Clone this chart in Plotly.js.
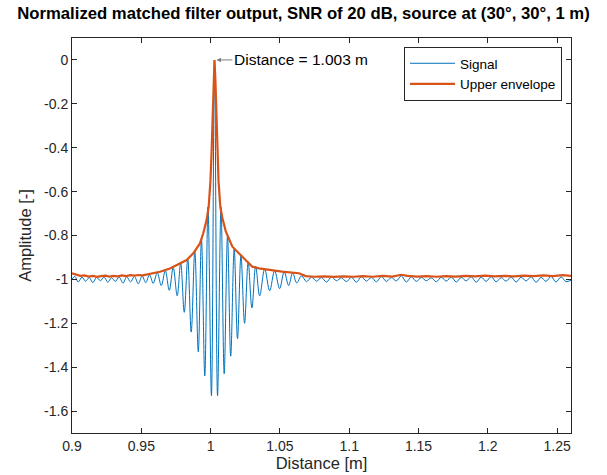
<!DOCTYPE html>
<html>
<head>
<meta charset="utf-8">
<script src="https://cdn.plot.ly/plotly-3.0.1.min.js"></script>
<style>html,body{margin:0;padding:0;background:#fff;}#chart{width:607px;height:475px;}</style>
</head>
<body>
<div id="chart"></div>
<script>
// Signal (matched filter output): positions [m] and amplitudes of its local extremes
const signalX = [
  0.9000,0.9020,0.9045,0.9072,0.9098,0.9125,0.9150,0.9178,0.9205,0.9232,0.9258,0.9285,0.9312,0.9340,
  0.9368,0.9395,0.9423,0.9450,0.9478,0.9506,0.9532,0.9559,0.9586,
  0.9615,0.9644,0.9673,0.9702,0.9730,0.9759,0.9784,0.9810,0.9835,0.9860,0.9886,0.9911,0.9934,0.9958,0.9981,1.0006,
  1.0028,
  1.0050,1.0075,1.0098,1.0122,1.0145,1.0170,1.0194,1.0219,1.0245,1.0271,1.0298,1.0325,1.0354,1.0390,1.0426,1.0462,
  1.0498,1.0531,1.0563,1.0592,1.0621,
  1.0656,1.0692,1.0728,1.0764,1.0800,1.0836,1.0872,1.0908,1.0944,1.0980,1.1016,1.1052,1.1088,1.1124,1.1160,1.1196,
  1.1232,1.1268,1.1304,1.1340,1.1376,1.1412,1.1448,1.1484,1.1520,1.1556,1.1592,1.1628,1.1664,1.1700,1.1736,1.1772,
  1.1808,1.1844,1.1880,1.1916,1.1952,1.1988,1.2024,1.2060,1.2096,1.2132,1.2168,1.2204,1.2240,1.2276,1.2312,1.2348,
  1.2384,1.2420,1.2456,1.2492,1.2528,1.2564,1.2600
];
const signalY = [
  -1.000,-0.986,-1.012,-0.990,-1.008,-0.992,-1.015,-0.991,-1.006,-0.989,-1.013,-0.993,-1.009,-0.990,
  -1.017,-0.988,-1.012,-0.986,-1.020,-0.984,-1.015,-0.979,-1.018,
  -0.970,-1.028,-0.960,-1.050,-0.945,-1.075,-0.925,-1.150,-0.905,-1.240,-0.870,-1.330,-0.815,-1.440,-0.670,-1.530,
  0.000,
  -1.530,-0.670,-1.430,-0.800,-1.350,-0.860,-1.270,-0.890,-1.200,-0.920,-1.130,-0.940,-1.075,-0.952,-1.052,-0.960,
  -1.042,-0.965,-1.028,-0.970,-1.016,
  -0.984,-1.010,-0.990,-1.008,-0.992,-1.012,-0.989,-1.006,-0.993,-1.010,-0.990,-1.013,-0.988,-1.008,-0.991,-1.011,
  -0.987,-1.009,-0.992,-1.007,-0.984,-1.012,-0.988,-1.009,-0.991,-1.006,-0.993,-1.011,-0.990,-1.008,-0.989,-1.012,
  -0.991,-1.007,-0.988,-1.013,-0.990,-1.009,-0.987,-1.011,-0.992,-1.008,-0.989,-1.012,-0.990,-1.007,-0.988,-1.013,
  -0.991,-1.009,-0.986,-1.012,-0.989,-1.010,-1.004
];
// Upper envelope
const envX = [
  0.900,0.903,0.906,0.909,0.912,0.915,0.918,0.921,0.924,0.927,0.930,0.933,0.936,0.939,0.942,0.945,0.948,0.951,0.954,
  0.957,0.960,0.9635,0.9707,0.9779,0.9827,0.9875,0.9923,0.9947,0.9971,0.9986,0.9999,1.0007,1.0014,1.0021,
  1.0028,
  1.0035,1.0042,1.0049,1.0057,1.0070,1.0085,1.0109,1.0157,1.0229,1.0301,1.0349,1.0421,1.0515,1.0637,1.0686,
  1.075,1.082,1.089,1.096,1.103,1.110,1.117,1.124,1.131,1.1376,1.142,1.149,1.156,1.163,1.170,1.177,1.184,1.191,
  1.198,1.205,1.212,1.219,1.226,1.233,1.240,1.247,1.254,1.260
];
const envY = [
  -0.972,-0.978,-0.984,-0.982,-0.987,-0.984,-0.988,-0.985,-0.983,-0.987,-0.984,-0.986,-0.982,-0.985,-0.981,-0.983,-0.980,-0.982,-0.978,
  -0.975,-0.969,-0.965,-0.950,-0.927,-0.912,-0.881,-0.836,-0.790,-0.730,-0.670,-0.550,-0.420,-0.260,-0.100,
  0.000,
  -0.100,-0.260,-0.420,-0.550,-0.670,-0.720,-0.780,-0.851,-0.897,-0.942,-0.950,-0.957,-0.965,-0.972,-0.985,
  -0.988,-0.986,-0.989,-0.986,-0.988,-0.985,-0.988,-0.984,-0.987,-0.979,-0.984,-0.987,-0.985,-0.988,-0.985,-0.987,-0.984,-0.986,
  -0.983,-0.986,-0.984,-0.986,-0.983,-0.985,-0.982,-0.985,-0.981,-0.984
];
const xTickVals = [0.9,0.95,1,1.05,1.1,1.15,1.2,1.25];
const xTickText = ['0.9','0.95','1','1.05','1.1','1.15','1.2','1.25'];
const yTickVals = [0,-0.2,-0.4,-0.6,-0.8,-1,-1.2,-1.4,-1.6];
const yTickText = ['0','-0.2','-0.4','-0.6','-0.8','-1','-1.2','-1.4','-1.6'];
const peakX = 1.0028, peakY = 0;

const FONT = '"Liberation Sans", Arial, Helvetica, sans-serif';
const AX = '#262626';

const traces = [
  {x: signalX, y: signalY, type: 'scatter', mode: 'lines', name: 'Signal',
   line: {color: '#0072BD', width: 1, shape: 'spline', smoothing: 1}},
  {x: envX, y: envY, type: 'scatter', mode: 'lines', name: 'Upper envelope',
   line: {color: '#D95319', width: 2.2}}
];

const axisCommon = {
  showline: true, linecolor: AX, linewidth: 1, mirror: 'ticks',
  ticks: 'inside', ticklen: 5, tickcolor: AX, tickwidth: 1,
  showgrid: false, zeroline: false, automargin: false,
  tickfont: {family: FONT, size: 14, color: AX}
};

const layout = {
  width: 607, height: 475,
  margin: {l: 72, r: 36, t: 38, b: 42},
  paper_bgcolor: '#fff', plot_bgcolor: '#fff',
  font: {family: FONT, color: '#000'},
  title: {text: '<b>Normalized matched filter output, SNR of 20 dB, source at (30°, 30°, 1 m)</b>',
          font: {family: FONT, size: 16.7, color: '#000'},
          x: 0.5, xref: 'container', xanchor: 'center', y: 1 - 13/475, yref: 'container', yanchor: 'middle'},
  xaxis: Object.assign({}, axisCommon, {
    range: [0.9, 1.26], tickvals: xTickVals, ticktext: xTickText,
    title: {text: 'Distance [m]', font: {family: FONT, size: 16.5, color: AX}, standoff: 3}
  }),
  yaxis: Object.assign({}, axisCommon, {
    range: [-1.7, 0.1], tickvals: yTickVals, ticktext: yTickText,
    title: {text: 'Amplitude [-]', font: {family: FONT, size: 16.5, color: AX}, standoff: 8}
  }),
  showlegend: true,
  legend: {x: (562-72)/499, xanchor: 'right', y: (433-47)/395, yanchor: 'top',
           bgcolor: '#fff', bordercolor: AX, borderwidth: 1, itemwidth: 45,
           font: {family: FONT, size: 13.5, color: '#000'}, tracegroupgap: 0},
  annotations: [{
    x: peakX, y: peakY, xref: 'x', yref: 'y', ax: 18, ay: 0,
    text: 'Distance = 1.003 m', showarrow: true, xanchor: 'left', yanchor: 'middle',
    arrowhead: 2, arrowsize: 0.9, arrowwidth: 1, arrowcolor: '#7f7f7f', standoff: 2,
    font: {family: FONT, size: 15.5, color: '#000'}
  }]
};

Plotly.newPlot('chart', traces, layout, {displayModeBar: false, staticPlot: true});
</script>
</body>
</html>
